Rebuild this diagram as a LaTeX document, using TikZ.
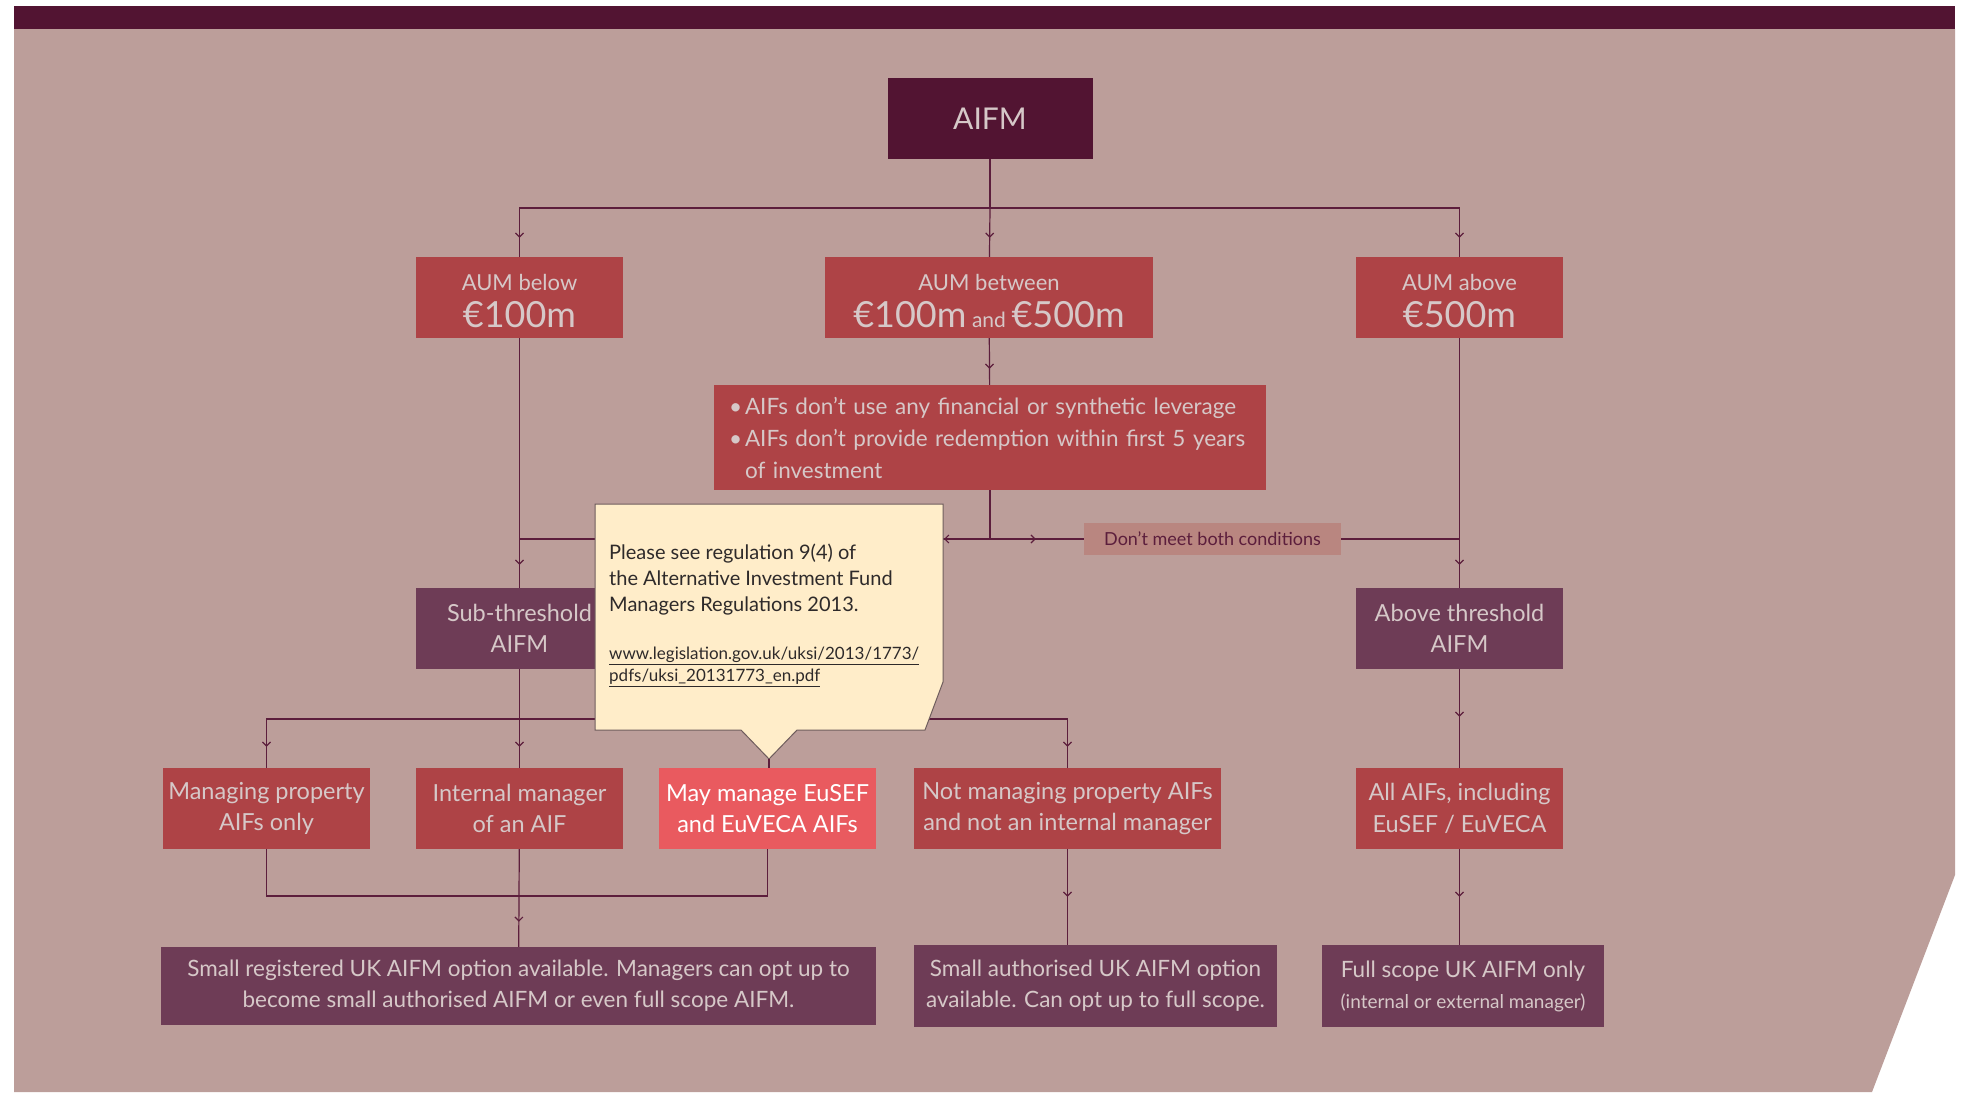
\documentclass[tikz,border=0pt]{standalone}
\usepackage{fontspec}
\setmainfont{Lato}
\usetikzlibrary{arrows.meta,decorations.markings}

\definecolor{plum}{HTML}{521432}
\definecolor{rosy}{HTML}{BC9E9A}
\definecolor{aumred}{HTML}{AE4346}
\definecolor{brightred}{HTML}{E95A5F}
\definecolor{mauve}{HTML}{6E3C56}
\definecolor{linecol}{HTML}{5C1E3C}
\definecolor{pale}{HTML}{D6C8C8}
\definecolor{tagbg}{HTML}{B98680}
\definecolor{cream}{HTML}{FFEDC9}
\definecolor{notebord}{HTML}{6E5C5C}
\definecolor{notetext}{HTML}{2E2A2A}

\newcommand\bigamt{\fontsize{36}{38}\selectfont}
\newcommand\topstrut{\rule{0pt}{24pt}}

\tikzset{
  box/.style={rectangle, inner sep=0pt, align=center, text=pale, font=\fontsize{23.5}{31.5}\selectfont, minimum height=81pt},
  redbox/.style={box, fill=aumred, minimum width=207pt},
  purplebox/.style={box, fill=mauve, minimum width=207pt},
  aumbox/.style={redbox, font=\fontsize{22}{37}\selectfont},
  lowbox/.style={purplebox, font=\fontsize{22.5}{31}\selectfont},
  link/.style={draw=linecol, line width=1.2pt},
  arrowat/.style={postaction={decorate}, decoration={markings, mark=at position #1 with {\arrow{Straight Barb[length=4pt,width=8pt]}}}}
}

\begin{document}
\begin{tikzpicture}[x=1pt,y=-1pt]
        \useasboundingbox (0,0) rectangle (1961,1092);
        \fill [white] (0,0) rectangle (1961,1092);
        \fill [plum] (14,6) rectangle (1955,29);
        \fill [rosy] (14,29) -- (1955,29) -- (1955,875) -- (1872,1092) -- (14,1092) -- cycle;

        \node [box, fill=plum, minimum width=205pt, font=\fontsize{30}{34}\selectfont] (aifm) at (990,118.5) {AIFM};

        \node [aumbox] (below) at (519.5,297.5) {\topstrut AUM below\\{\bigamt €100m}};
        \node [aumbox, minimum width=328pt] (between) at (989,297.5) {\topstrut AUM between\\{\bigamt €100m} {\fontsize{21}{24}\selectfont and} {\bigamt €500m}};
        \node [aumbox] (above) at (1459.5,297.5) {\topstrut AUM above\\{\bigamt €500m}};

        \node [box, fill=aumred, minimum width=552pt, minimum height=105pt, text width=522pt, align=left, font=\fontsize{22.5}{32}\selectfont] (cond) at (990,437.5)
          {\makebox[16pt][l]{\textbullet}AIFs don’t use any financial or synthetic leverage\\\makebox[16pt][l]{\textbullet}AIFs don’t provide redemption within first 5 years\\\hspace*{16pt}of investment};

        \node [box, fill=tagbg, text=linecol, minimum width=257pt, minimum height=32pt, font=\fontsize{18}{20}\selectfont] (tag) at (1212.5,539) {Don’t meet both conditions};

        \node [purplebox] (subthr) at (519.5,628.5) {Sub-threshold\\AIFM};
        \node [purplebox] (abovethr) at (1459.5,628.5) {Above threshold\\AIFM};

        \node [redbox] (managing) at (266.5,808.5) {Managing property\\AIFs only};
        \node [redbox] (internal) at (519.5,808.5) {Internal manager\\of an AIF};
        \node [box, fill=brightred, text=white, minimum width=217pt] (mayeu) at (767.5,808.5) {May manage EuSEF\\and EuVECA AIFs};
        \node [redbox, minimum width=307pt] (notprop) at (1067.5,808.5) {Not managing property AIFs\\and not an internal manager};
        \node [redbox] (allaifs) at (1459.5,808.5) {All AIFs, including\\EuSEF / EuVECA};

        \node [lowbox, minimum width=715pt, minimum height=78pt] (smallreg) at (518.5,986) {Small registered UK AIFM option available. Managers can opt up to\\become small authorised AIFM or even full scope AIFM.};
        \node [lowbox, minimum width=363pt, minimum height=82pt] (smallauth) at (1095.5,986) {Small authorised UK AIFM option\\available. Can opt up to full scope.};
        \node [lowbox, minimum width=282pt, minimum height=82pt] (fullscope) at (1463,986) {Full scope UK AIFM only\\{\fontsize{19}{22}\selectfont(internal or external manager)}};

        \coordinate (split) at (990,208);
        \coordinate (junction) at (990,539);
        \coordinate (fork) at (519.5,719);
        \coordinate (merge) at (519.5,896);

        \draw [link] (aifm) -- (split);
        \draw [link, arrowat=-19pt] (split) -| (below);
        \draw [link, arrowat=-19pt] (split) -- (between);
        \draw [link, arrowat=-19pt] (split) -| (above);
        \draw [link, arrowat=-16pt] (between) -- (cond);
        \draw [link] (cond) -- (junction);
        \draw [link, arrowat=46pt] (junction) -- (junction -| below);
        \draw [link, arrowat=-48pt] (junction) -- (tag);
        \draw [link] (tag) -- (tag -| above);
        \draw [link, arrowat=-23pt] (below) -- (subthr);
        \draw [link, arrowat=-23pt] (above) -- (abovethr);
        \draw [link, arrowat=-21pt] (subthr) -- (internal);
        \draw [link, arrowat=-21pt] (fork) -| (managing);
        \draw [link, arrowat=-21pt] (fork) -| (notprop);
        \draw [link, arrowat=-51pt] (abovethr) -- (allaifs);
        \draw [link] (managing) |- (merge) -| (mayeu);
        \draw [link, arrowat=-25pt] (internal) -- (smallreg);
        \draw [link, arrowat=-48pt] (notprop) -- (notprop |- smallauth.north);
        \draw [link, arrowat=-48pt] (allaifs) -- (allaifs |- fullscope.north);

        \fill [cream, draw=notebord, line width=1pt] (595,504) -- (943,504) -- (943,682) -- (925,730) -- (797,730) -- (769,759) -- (741,730) -- (595,730) -- cycle;
        \coordinate (calltip) at (769,759);
        \draw [link] (calltip) -- (calltip |- mayeu.north);
        \node [anchor=north west, inner sep=0pt, align=left, text=notetext, font=\fontsize{20}{26}\selectfont] (note) at (609,544) {Please see regulation 9(4) of\\the Alternative Investment Fund\\Managers Regulations 2013.};
        \node [anchor=north west, inner sep=0pt, align=left, text=notetext, font=\fontsize{17}{22}\selectfont] (noteurl) at (609,647) {\underline{www.legislation.gov.uk/uksi/2013/1773/}\\\underline{pdfs/uksi\_20131773\_en.pdf}};
\end{tikzpicture}
\end{document}
